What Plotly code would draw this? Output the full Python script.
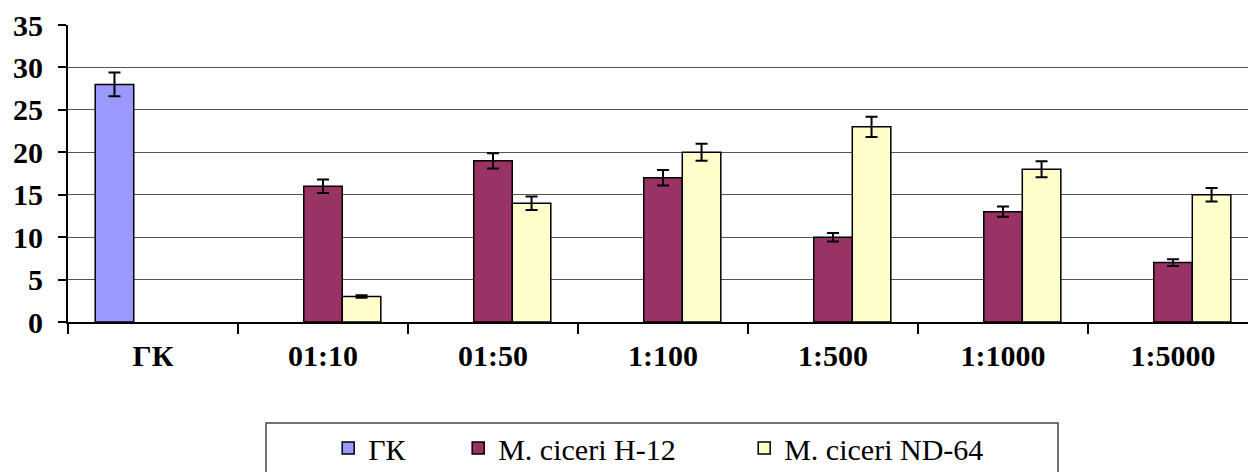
import plotly.graph_objects as go

# Dilution categories and measured values
categories = ["ГК", "01:10", "01:50", "1:100", "1:500", "1:1000", "1:5000"]

gk_values = [28, None, None, None, None, None, None]
gk_errors = [1.4, 0, 0, 0, 0, 0, 0]

h12_values = [None, 16, 19, 17, 10, 13, 7]
h12_errors = [0, 0.8, 0.9, 0.9, 0.5, 0.6, 0.4]

nd64_values = [None, 3, 14, 20, 23, 18, 15]
nd64_errors = [0, 0.15, 0.8, 1.0, 1.2, 0.95, 0.8]

y_ticks = [0, 5, 10, 15, 20, 25, 30, 35]

FONT = "Liberation Serif, Times New Roman, serif"

series = [
    ("ГК", gk_values, gk_errors, "#9999FF", 85),
    ("M. ciceri H-12", h12_values, h12_errors, "#993366", 241),
    ("M. ciceri ND-64", nd64_values, nd64_errors, "#FFFFCC", 210),
]

fig = go.Figure()
for name, vals, errs, color, lw in series:
    fig.add_trace(go.Bar(
        x=categories,
        y=vals,
        name=name,
        marker=dict(color=color, line=dict(color="black", width=1.5)),
        error_y=dict(type="data", array=errs, visible=True,
                     color="black", thickness=2, width=6),
        legendwidth=lw,
    ))

fig.update_layout(
    width=1248,
    height=472,
    margin=dict(l=68, r=0, t=25, b=150, autoexpand=False),
    paper_bgcolor="white",
    plot_bgcolor="white",
    barmode="group",
    bargap=0.32,
    bargroupgap=0,
    font=dict(family=FONT, color="black"),
    showlegend=True,
    legend=dict(
        orientation="h",
        x=0.2205, xanchor="left",
        y=-0.337, yanchor="top",
        font=dict(family=FONT, size=30, color="black"),
        bgcolor="rgba(0,0,0,0)",
        borderwidth=0,
        itemwidth=30,
        traceorder="normal",
    ),
    shapes=[dict(
        type="rect", xref="paper", yref="paper",
        x0=0.1678, x1=0.8390, y0=-0.340, y1=-0.70,
        line=dict(color="#444444", width=1.5),
        fillcolor="rgba(0,0,0,0)",
        layer="below",
    )],
)

fig.update_xaxes(
    type="category",
    range=[-0.5, 6.441],
    showline=True, linecolor="black", linewidth=2,
    ticks="outside", tickson="boundaries", ticklen=10,
    tickcolor="black", tickwidth=1.5,
    showgrid=False, zeroline=False,
    tickfont=dict(family=FONT, size=30, color="black", weight="bold"),
    ticklabelstandoff=6,
)

fig.update_yaxes(
    range=[0, 35],
    tickvals=y_ticks,
    showline=True, linecolor="black", linewidth=2,
    ticks="outside", ticklen=8, tickcolor="black", tickwidth=1.5,
    showgrid=True, gridcolor="#555555", gridwidth=1,
    zeroline=False,
    tickfont=dict(family=FONT, size=30, color="black", weight="bold"),
    ticklabelstandoff=9,
)

fig.write_html("out.html")
